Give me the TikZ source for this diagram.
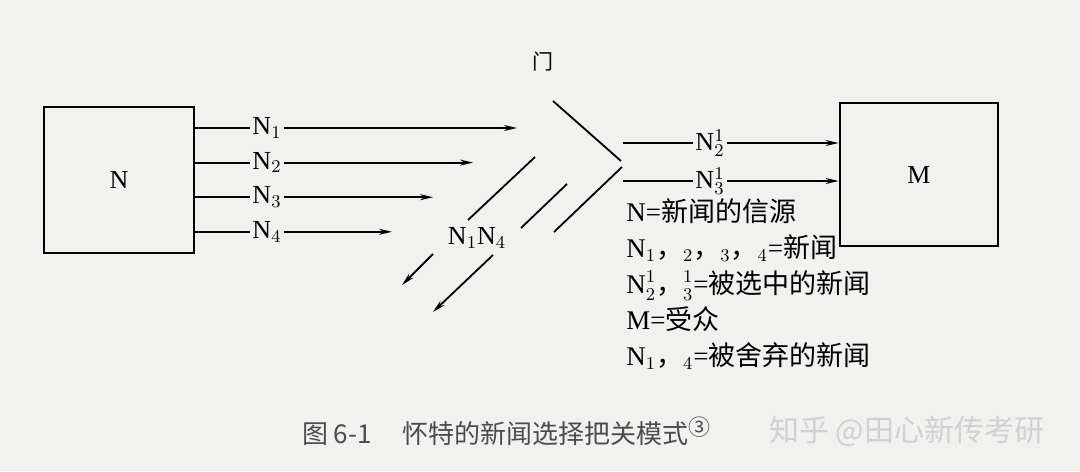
\documentclass[tikz,border=0pt]{standalone}
\usepackage{fontspec}
\setmainfont{Liberation Serif}
\newfontfamily\cjk{Noto Sans CJK SC}
\usetikzlibrary{arrows.meta,positioning}

\definecolor{paper}{RGB}{241,241,240}
\tikzset{
  box/.style={draw, line width=1.4pt, font=\fontsize{13}{15}\selectfont},
  lbl/.style={inner sep=1pt, font=\fontsize{13}{15}\selectfont},
  feed/.style={line width=0.9pt},
  arr/.style={line width=0.9pt, -{Stealth[length=6.5pt, width=3pt]}},
}

\begin{document}
\begin{tikzpicture}[x=0.5pt, y=-0.5pt, node distance=17.3pt, on grid]
\fill[paper] (0,0) rectangle (1080,471);

% source and audience
\node[box, minimum width=75pt, minimum height=73pt] (N) at (119,180) {N};
\node[box, minimum width=79pt, minimum height=71.5pt] (M) at (919,174.5) {M};

% news items
\node[lbl] (n_1) at (267,128) {N$_1$};
\node[lbl] (n_2) [below=of n_1] {N$_2$};
\node[lbl] (n_3) [below=of n_2] {N$_3$};
\node[lbl] (n_4) [below=of n_3] {N$_4$};

\coordinate (e_1) at (517,0);
\coordinate (e_2) at (473,0);
\coordinate (e_3) at (433,0);
\coordinate (e_4) at (392,0);

\path[feed]
(N.east |- n_1) edge (n_1)
(N.east |- n_2) edge (n_2)
(N.east |- n_3) edge (n_3)
(N.east |- n_4) edge (n_4)
;
\path[arr]
(n_1) edge (n_1 -| e_1)
(n_2) edge (n_2 -| e_2)
(n_3) edge (n_3 -| e_3)
(n_4) edge (n_4 -| e_4)
;

% the gate
\node[font=\cjk\fontsize{10.5}{12}\selectfont] (gate) at (543,62) {门};
\coordinate (g_1) at (553,101);
\coordinate (g_2) at (621,161);
\coordinate (g_3) at (622,167);
\coordinate (g_4) at (554,232);
\draw[feed] (g_1) -- (g_2) (g_3) -- (g_4);

% rejected items
\coordinate (r_1) at (535,157);
\coordinate (r_2) at (468,220);
\coordinate (r_3) at (567,184);
\coordinate (r_4) at (521,228);
\draw[feed] (r_1) -- (r_2) (r_3) -- (r_4);

\node[lbl] (k) at (477,238) {N$_1$N$_4$};
\coordinate (d_1) at (433,254);
\coordinate (d_2) at (402,285);
\coordinate (d_3) at (493,255);
\coordinate (d_4) at (433,312);
\path[arr]
(d_1) edge (d_2)
(d_3) edge (d_4)
;

% selected items
\node[lbl] (s_2) at (710,143) {N$^1_2$};
\node[lbl] (s_3) at (710,181) {N$^1_3$};
\coordinate (t) at (623,0);
\path[feed]
(s_2 -| t) edge (s_2)
(s_3 -| t) edge (s_3)
;
\path[arr]
(s_2) edge (s_2 -| M.west)
(s_3) edge (s_3 -| M.west)
;

% key
\node[anchor=north west, align=left, inner sep=0pt, font=\fontsize{13.5}{18}\selectfont] (key) at (626,198)
{N={\cjk 新闻的信源}\\
N$_1${\cjk ，}$_2${\cjk ，}$_3${\cjk ，}$_4$={\cjk 新闻}\\
N$^1_2${\cjk ，}$^1_3$={\cjk 被选中的新闻}\\
M={\cjk 受众}\\
N$_1${\cjk ，}$_4$={\cjk 被舍弃的新闻}};

% caption and mark
\node[anchor=west, text=black!70, font=\cjk\fontsize{13}{15}\selectfont] (cap) at (295,431)
{图 6-1\hspace{1.2em}怀特的新闻选择把关模式\raisebox{0.55ex}{\fontsize{11}{12}\selectfont ③}};
\node[anchor=west, text=black!18, font=\cjk\fontsize{15}{17}\selectfont] (mark) at (762,431)
{知乎 @田心新传考研};
\end{tikzpicture}
\end{document}
